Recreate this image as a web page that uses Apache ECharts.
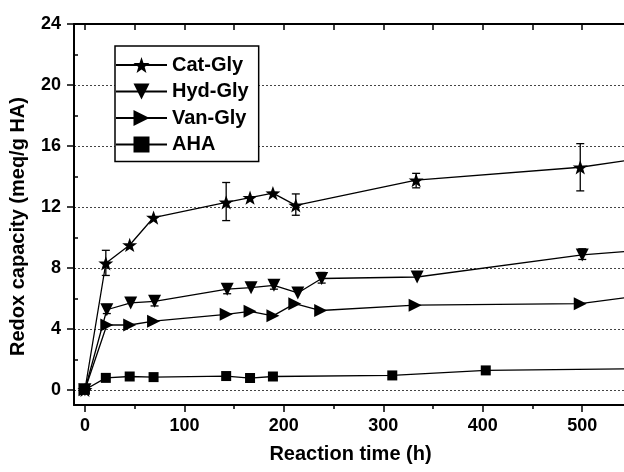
<!DOCTYPE html>
<html>
<head>
<meta charset="utf-8">
<script src="https://cdn.jsdelivr.net/npm/echarts@6/dist/echarts.min.js"></script>
<style>
  html, body { margin: 0; padding: 0; background: #fff; }
  #chart { width: 624px; height: 472px; }
</style>
</head>
<body>
<div id="chart"></div>
<script>
var FONT = 'Liberation Sans, Arial, sans-serif';

// values
var catTime = [0, 21, 45, 69, 142, 166, 189, 212, 333, 498, 550];
var catVal = [0, 8.3, 9.5, 11.3, 12.3, 12.6, 12.9, 12.1, 13.75, 14.6, 15.1];
var catErr = [[21, 7.5, 9.15], [142, 11.1, 13.6], [212, 11.45, 12.85], [333, 13.25, 14.2], [498, 13.05, 16.15]];

var hydTime = [0, 22, 46, 70, 143, 167, 190, 214, 238, 334, 500, 550];
var hydVal = [0, 5.25, 5.7, 5.8, 6.6, 6.7, 6.85, 6.35, 7.3, 7.4, 8.85, 9.1];
var hydErr = [[22, 5.0, 5.6], [70, 5.5, 6.15], [143, 6.3, 6.9], [190, 6.6, 7.05], [238, 7.0, 7.7], [500, 8.55, 9.25]];

var vanTime = [0, 22, 45, 69, 142, 166, 189, 211, 237, 332, 498, 550];
var vanVal = [0, 4.25, 4.25, 4.5, 4.95, 5.15, 4.85, 5.65, 5.2, 5.55, 5.65, 6.1];

var ahaTime = [0, 21, 45, 69, 142, 166, 189, 309, 403, 550];
var ahaVal = [0, 0.78, 0.87, 0.83, 0.9, 0.77, 0.87, 0.94, 1.27, 1.37];

var xMajor = [0, 100, 200, 300, 400, 500];
var xMinor = [50, 150, 250, 350, 450];
var yMajor = [0, 4, 8, 12, 16, 20, 24];
var yMinor = [2, 6, 10, 14, 18, 22];

var STAR = 'path://M0,-10L2.35,-3.24L9.51,-3.09L3.8,1.24L5.88,8.09L0,4L-5.88,8.09L-3.8,1.24L-9.51,-3.09L-2.35,-3.24Z';

function pairs(xs, ys) {
  return xs.map(function (x, i) { return [x, ys[i]]; });
}

function errSeries(data) {
  return {
    type: 'custom',
    silent: true,
    z: 1,
    data: data,
    renderItem: function (params, api) {
      var x = api.value(0);
      var lo = api.coord([x, api.value(1)]);
      var hi = api.coord([x, api.value(2)]);
      var w = 4;
      var st = { stroke: '#000', lineWidth: 1.3 };
      return {
        type: 'group',
        children: [
          { type: 'line', shape: { x1: lo[0], y1: lo[1], x2: hi[0], y2: hi[1] }, style: st },
          { type: 'line', shape: { x1: lo[0] - w, y1: lo[1], x2: lo[0] + w, y2: lo[1] }, style: st },
          { type: 'line', shape: { x1: hi[0] - w, y1: hi[1], x2: hi[0] + w, y2: hi[1] }, style: st }
        ]
      };
    },
    encode: { x: 0, y: [1, 2] }
  };
}

function lineSeries(name, xs, ys, symbol, size, rotate) {
  return {
    name: name,
    type: 'line',
    data: pairs(xs, ys),
    symbol: symbol,
    symbolSize: size,
    symbolRotate: rotate || 0,
    symbolKeepAspect: true,
    showAllSymbol: true,
    clip: true,
    z: 3,
    lineStyle: { color: '#000', width: 1.3 },
    itemStyle: { color: '#000', borderWidth: 0 }
  };
}

// axis that only carries a set of ticks, sitting on the plot frame
function tickAxis(position, min, max, values, len, inside) {
  return {
    type: 'value',
    min: min,
    max: max,
    position: position,
    offset: 0,
    axisLine: { show: true, onZero: false, lineStyle: { color: 'rgba(0,0,0,0)', width: 0 } },
    axisTick: { show: true, inside: inside, length: len, customValues: values, lineStyle: { color: '#000', width: 1.5 } },
    axisLabel: { show: false },
    splitLine: { show: false }
  };
}

var chart = echarts.init(document.getElementById('chart'));
chart.setOption({
  backgroundColor: '#fff',
  animation: false,
  textStyle: { fontFamily: FONT },
  grid: { left: 74, right: -3, top: 24, bottom: 67, outerBoundsMode: 'none' },
  legend: {
    orient: 'vertical',
    left: 115,
    top: 46,
    padding: [9, 10, 7, 0],
    itemGap: 6.5,
    itemWidth: 51,
    itemHeight: 20,
    backgroundColor: '#fff',
    borderColor: '#000',
    borderWidth: 1.5,
    borderRadius: 0,
    textStyle: { fontSize: 20, fontWeight: 'bold', color: '#000', fontFamily: FONT, lineHeight: 20 },
    data: ['Cat-Gly', 'Hyd-Gly', 'Van-Gly', 'AHA']
  },
  xAxis: [
    {
      type: 'value',
      min: -11,
      max: 545,
      position: 'bottom',
      offset: 0,
      name: 'Reaction time (h)',
      nameLocation: 'middle',
      nameGap: 39,
      nameTextStyle: { fontSize: 20, fontWeight: 'bold', color: '#000', fontFamily: FONT },
      axisLine: { show: true, onZero: false, lineStyle: { color: '#000', width: 2 } },
      axisTick: { show: true, inside: false, length: 7, customValues: xMajor, lineStyle: { color: '#000', width: 1.5 } },
      axisLabel: { customValues: xMajor, fontSize: 18, fontWeight: 'bold', color: '#000', margin: 12, fontFamily: FONT },
      splitLine: { show: false }
    },
    tickAxis('bottom', -11, 545, xMinor, 4, false),
    {
      type: 'value',
      min: -11,
      max: 545,
      position: 'top',
      offset: 0,
      axisLine: { show: true, onZero: false, lineStyle: { color: '#000', width: 2 } },
      axisTick: { show: true, inside: true, length: 6, customValues: xMajor.concat(xMinor), lineStyle: { color: '#000', width: 1.5 } },
      axisLabel: { show: false },
      splitLine: { show: false }
    }
  ],
  yAxis: [
    {
      type: 'value',
      min: -1,
      max: 24,
      position: 'left',
      offset: 0,
      name: 'Redox capacity (meq/g HA)',
      nameLocation: 'middle',
      nameGap: 46,
      nameTextStyle: { fontSize: 20, fontWeight: 'bold', color: '#000', fontFamily: FONT, padding: [0, 24, 0, 0] },
      axisLine: { show: true, onZero: false, lineStyle: { color: '#000', width: 2 } },
      axisTick: { show: true, inside: false, length: 7, customValues: yMajor, lineStyle: { color: '#000', width: 1.5 } },
      axisLabel: { customValues: yMajor, fontSize: 18, fontWeight: 'bold', color: '#000', margin: 13, fontFamily: FONT },
      splitLine: { show: true, lineStyle: { color: '#444', width: 1, type: [2, 2] } }
    },
    tickAxis('left', -1, 24, yMinor, 4, true),
    {
      type: 'value',
      min: -1,
      max: 24,
      position: 'right',
      offset: 0,
      axisLine: { show: true, onZero: false, lineStyle: { color: '#000', width: 2 } },
      axisTick: { show: false },
      axisLabel: { show: false },
      splitLine: { show: false }
    }
  ],
  series: [
    errSeries(catErr),
    errSeries(hydErr),
    lineSeries('AHA', ahaTime, ahaVal, 'rect', 10, 0),
    lineSeries('Van-Gly', vanTime, vanVal, 'triangle', 13, -90),
    lineSeries('Hyd-Gly', hydTime, hydVal, 'triangle', 13, 180),
    lineSeries('Cat-Gly', catTime, catVal, STAR, 15, 0)
  ]
});
</script>
</body>
</html>
